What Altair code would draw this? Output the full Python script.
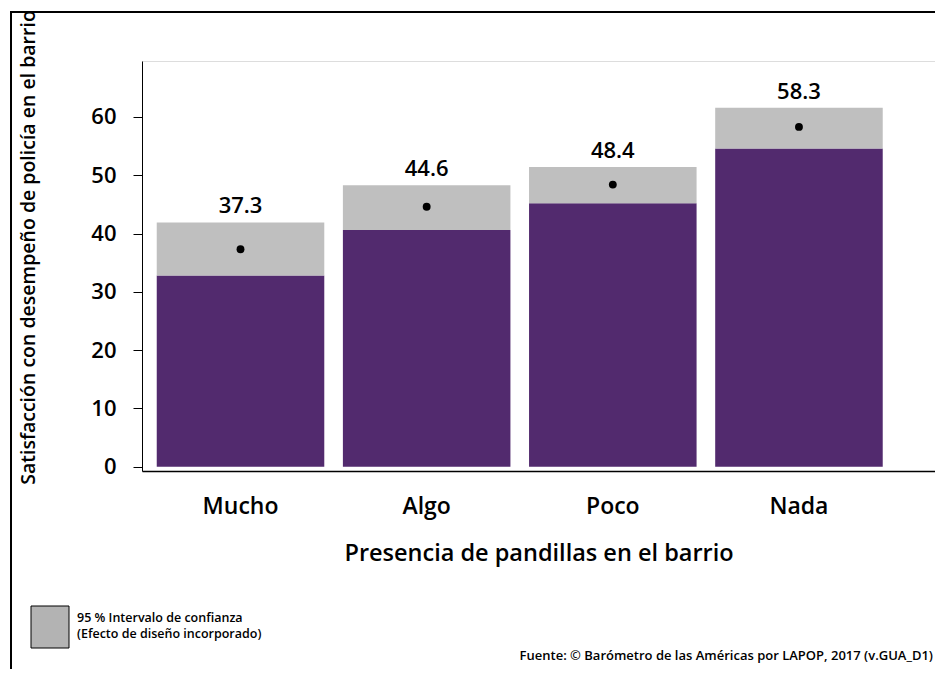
import altair as alt
import pandas as pd

categories = ["Mucho", "Algo", "Poco", "Nada"]
means = [37.3, 44.6, 48.4, 58.3]
ci_low = [32.8, 40.6, 45.2, 54.6]
ci_high = [41.9, 48.3, 51.4, 61.6]
y_ticks = [0, 10, 20, 30, 40, 50, 60]

df = pd.DataFrame({
    "cat": categories,
    "mean": means,
    "low": ci_low,
    "high": ci_high,
    "zero": [0] * len(categories),
})
df["label"] = df["mean"].map(lambda v: f"{v:.1f}")

FONT = "Open Sans"
PURPLE = "#522a6e"
GRAY = "#bfbfbf"

x_enc = alt.X(
    "cat:N",
    sort=categories,
    scale=alt.Scale(paddingInner=0.1, paddingOuter=0.18, align=0.22),
    axis=alt.Axis(
        title="Presencia de pandillas en el barrio",
        labelAngle=0,
        ticks=False,
        tickSize=0,
        labelPadding=35,
        labelBaseline="middle",
        labelFontSize=23,
        labelFontWeight=600,
        labelColor="black",
        titleFontSize=23.5,
        titleFontWeight=600,
        titleColor="black",
        titleY=82,
        titleBaseline="middle",
        domainColor="black",
        domainWidth=1.5,
    ),
)
y_scale = alt.Scale(domain=[-0.73, 69.6], nice=False, zero=False)

base = alt.Chart(df).encode(x=x_enc)

purple = base.mark_bar(color=PURPLE).encode(
    y=alt.Y(
        "zero:Q",
        scale=y_scale,
        axis=alt.Axis(
            title="Satisfacción con desempeño de policía en el barrio",
            values=y_ticks,
            tickSize=9,
            tickColor="black",
            labelPadding=17,
            labelFontSize=22,
            labelFontWeight=600,
            labelColor="black",
            grid=False,
            domainColor="black",
            titleFontSize=19.5,
            titleFontWeight=600,
            titleColor="black",
            titleX=-114,
            titleY=186,
            titleAngle=270,
            titleAlign="center",
            titleBaseline="middle",
        ),
    ),
    y2="low:Q",
)

gray = base.mark_bar(color=GRAY).encode(y=alt.Y("low:Q", scale=y_scale), y2="high:Q")

dots = base.mark_circle(color="black", size=62, opacity=1).encode(y=alt.Y("mean:Q", scale=y_scale))

labels = base.mark_text(
    font=FONT, fontSize=22, fontWeight=600, color="black", baseline="alphabetic", dy=-9
).encode(y=alt.Y("high:Q", scale=y_scale), text="label:N")

# decorative frame
frame = alt.Chart(df.head(1)).mark_rect(fill=None, stroke="black", strokeWidth=2).encode(
    x=alt.value(-131), x2=alt.value(900), y=alt.value(-49), y2=alt.value(700)
)

legend_box = alt.Chart(df.head(1)).mark_rect(fill="#b3b3b3", stroke="black", strokeWidth=1).encode(
    x=alt.value(-111), x2=alt.value(-73), y=alt.value(545), y2=alt.value(587)
)
legend_text1 = alt.Chart(df.head(1)).mark_text(
    font=FONT, fontSize=12.5, fontWeight=600, align="left", baseline="middle", color="black",
    text="95 % Intervalo de confianza",
).encode(x=alt.value(-65), y=alt.value(557))
legend_text2 = alt.Chart(df.head(1)).mark_text(
    font=FONT, fontSize=12.5, fontWeight=600, align="left", baseline="middle", color="black",
    text="(Efecto de diseño incorporado)",
).encode(x=alt.value(-65), y=alt.value(573))
source = alt.Chart(df.head(1)).mark_text(
    font=FONT, fontSize=13, fontWeight=600, align="right", baseline="middle", color="black",
    text="Fuente: © Barómetro de las Américas por LAPOP, 2017 (v.GUA_D1)",
).encode(x=alt.value(791), y=alt.value(595))

chart = alt.layer(
    frame, purple, gray, dots, labels, legend_box, legend_text1, legend_text2, source
).properties(
    width=793,
    height=410,
    padding={"left": 134, "top": 53, "right": 0, "bottom": 198},
    autosize=alt.AutoSizeParams(type="none"),
).configure_view(stroke=None).configure(font=FONT)

chart.save("out.html", embed_options={"renderer": "svg", "actions": False})
